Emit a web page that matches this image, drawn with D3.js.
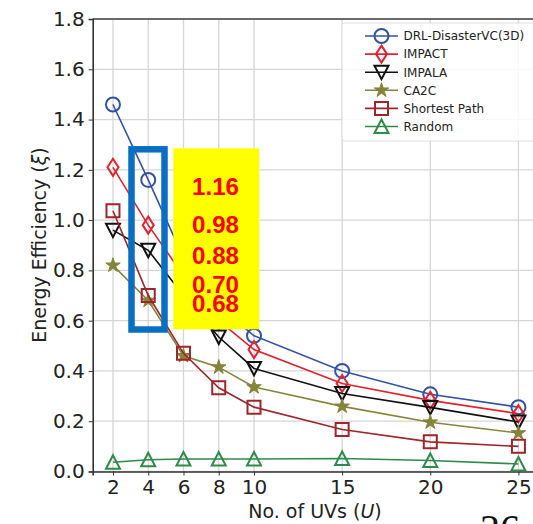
<!DOCTYPE html>
<html>
<head>
<meta charset="utf-8">
<script src="https://cdn.jsdelivr.net/npm/d3@7"></script>
<style>
  body { margin: 0; background: #fff; overflow: hidden; }
  svg { display: block; font-family: "DejaVu Sans", sans-serif; }
</style>
</head>
<body>
<svg id="chart" width="533" height="524"></svg>
<script>
// number of UVs
var uvs = [2, 4, 6, 8, 10, 15, 20, 25];

// energy efficiency per method
var drl      = [1.46, 1.16, 0.85, 0.66, 0.54, 0.40, 0.307, 0.256];
var impact   = [1.21, 0.98, 0.78, 0.60, 0.485, 0.35, 0.283, 0.23];
var impala   = [0.96, 0.88, 0.70, 0.535, 0.41, 0.31, 0.255, 0.197];
var ca2c     = [0.82, 0.68, 0.46, 0.415, 0.336, 0.259, 0.196, 0.153];
var shortest = [1.037, 0.70, 0.47, 0.333, 0.256, 0.167, 0.118, 0.10];
var random   = [0.037, 0.047, 0.05, 0.05, 0.05, 0.052, 0.044, 0.03];

var yTicks = [0, 0.2, 0.4, 0.6, 0.8, 1.0, 1.2, 1.4, 1.6, 1.8];
var callout = ["1.16", "0.98", "0.88", "0.70", "0.68"];

var series = [
  {name: "DRL-DisasterVC(3D)", vals: drl, color: "#3352a3", marker: "circle"},
  {name: "IMPACT", vals: impact, color: "#e0232f", marker: "diamond"},
  {name: "IMPALA", vals: impala, color: "#111111", marker: "tridown"},
  {name: "CA2C", vals: ca2c, color: "#85853a", marker: "star"},
  {name: "Shortest Path", vals: shortest, color: "#9e252b", marker: "square"},
  {name: "Random", vals: random, color: "#2e8b4c", marker: "triup"}
];

var svg = d3.select("#chart");

var x = d3.scaleLinear().domain([0.85, 26.15]).range([92.7, 538.7]);
var y = d3.scaleLinear().domain([0, 1.8]).range([471.5, 19]);

// grid
var grid = svg.append("g");
grid.selectAll(".gx").data(uvs).enter().append("line")
  .attr("x1", d => x(d)).attr("x2", d => x(d))
  .attr("y1", y(0)).attr("y2", y(1.8))
  .attr("stroke", "#d6d6d6").attr("stroke-width", 1.3);
grid.selectAll(".gy").data(yTicks).enter().append("line")
  .attr("x1", x(0.85)).attr("x2", 533)
  .attr("y1", d => y(d)).attr("y2", d => y(d))
  .attr("stroke", "#d6d6d6").attr("stroke-width", 1.3);

// axes
var xAxis = svg.append("g")
  .attr("transform", "translate(0," + y(0) + ")")
  .call(d3.axisBottom(x).tickValues(uvs).tickSize(4).tickPadding(4));
var yAxis = svg.append("g")
  .attr("transform", "translate(" + x(0.85) + ",0)")
  .call(d3.axisLeft(y).tickValues(yTicks).tickFormat(d3.format(".1f")).tickSize(4).tickPadding(4));
[xAxis, yAxis].forEach(function (a) {
  a.selectAll("text").attr("font-size", 20).attr("font-family", "DejaVu Sans").attr("fill", "#222");
  a.select(".domain").attr("stroke", "#333").attr("stroke-width", 1.6);
  a.selectAll(".tick line").attr("stroke", "#333");
});
// top frame
svg.append("line").attr("x1", x(0.85)).attr("x2", 533)
  .attr("y1", y(1.8)).attr("y2", y(1.8)).attr("stroke", "#444").attr("stroke-width", 1.6);

// axis titles
var xl = svg.append("text").attr("x", 315).attr("y", 518)
  .attr("text-anchor", "middle").attr("font-size", 19).attr("fill", "#222");
xl.append("tspan").text("No. of UVs (");
xl.append("tspan").attr("font-style", "italic").text("U");
xl.append("tspan").text(")");

var yl = svg.append("text").attr("transform", "translate(46,245) rotate(-90)")
  .attr("text-anchor", "middle").attr("font-size", 19).attr("fill", "#222");
yl.append("tspan").text("Energy Efficiency (");
yl.append("tspan").attr("font-style", "italic").text("\u03be");
yl.append("tspan").text(")");

function markerPath(type) {
  switch (type) {
    case "circle": return "M-7,0A7,7 0 1,0 7,0A7,7 0 1,0 -7,0Z";
    case "diamond": return "M0,-8.5L5.5,0L0,8.5L-5.5,0Z";
    case "tridown": return "M-7,-6.5L7,-6.5L0,7Z";
    case "triup": return "M0,-7L7,6.5L-7,6.5Z";
    case "square": return "M-6.5,-6.5H6.5V6.5H-6.5Z";
    case "star": return d3.symbol().type(d3.symbolStar).size(65)();
  }
}

var line = d3.line().x(d => x(d[0])).y(d => y(d[1]));

series.forEach(function (s) {
  var pts = uvs.map((u, i) => [u, s.vals[i]]);
  var g = svg.append("g");
  g.append("path").attr("d", line(pts)).attr("fill", "none")
    .attr("stroke", s.color).attr("stroke-width", 1.6);
  g.selectAll("path.m").data(pts).enter().append("path").attr("class", "m")
    .attr("transform", d => "translate(" + x(d[0]) + "," + y(d[1]) + ")")
    .attr("d", markerPath(s.marker))
    .attr("fill", s.marker === "star" ? s.color : "none")
    .attr("stroke", s.color).attr("stroke-width", s.marker === "star" ? 1 : 2);
});

// legend
var leg = svg.append("g");
leg.append("rect").attr("x", 342).attr("y", 23).attr("width", 200).attr("height", 118)
  .attr("rx", 3).attr("fill", "#fff").attr("fill-opacity", 0.85)
  .attr("stroke", "#e0e0e0").attr("stroke-width", 1);
series.forEach(function (s, i) {
  var ly = 36 + i * 18.1;
  leg.append("line").attr("x1", 365).attr("x2", 398).attr("y1", ly).attr("y2", ly)
    .attr("stroke", s.color).attr("stroke-width", 1.6);
  leg.append("path").attr("transform", "translate(381.5," + ly + ")")
    .attr("d", markerPath(s.marker))
    .attr("fill", s.marker === "star" ? s.color : "none")
    .attr("stroke", s.color).attr("stroke-width", s.marker === "star" ? 1 : 2);
  leg.append("text").attr("x", 403.5).attr("y", ly + 4.3)
    .attr("font-size", 12).attr("fill", "#222").text(s.name);
});

// highlight overlay
svg.append("rect").attr("x", 131.5).attr("y", 149.3).attr("width", 33).attr("height", 180.2)
  .attr("fill", "none").attr("stroke", "#0a6fc2").attr("stroke-width", 6.5);
svg.append("rect").attr("x", 173.3).attr("y", 148.3).attr("width", 86).attr("height", 181)
  .attr("fill", "#ffff00");
var baselines = [195, 232.7, 264, 293.3, 311.7];
svg.selectAll(".call").data(callout).enter().append("text")
  .attr("x", 215.5).attr("y", (d, i) => baselines[i])
  .attr("text-anchor", "middle").attr("font-family", "Liberation Sans, Arial, sans-serif")
  .attr("font-weight", "bold").attr("font-size", 23).attr("fill", "#ff0000")
  .attr("textLength", 47).attr("lengthAdjust", "spacingAndGlyphs")
  .text(d => d);

// page number peeking in at the corner
svg.append("text").attr("x", 480).attr("y", 542)
  .attr("font-family", "Liberation Serif, serif").attr("font-size", 40)
  .attr("fill", "#111").text("26");
</script>
</body>
</html>
